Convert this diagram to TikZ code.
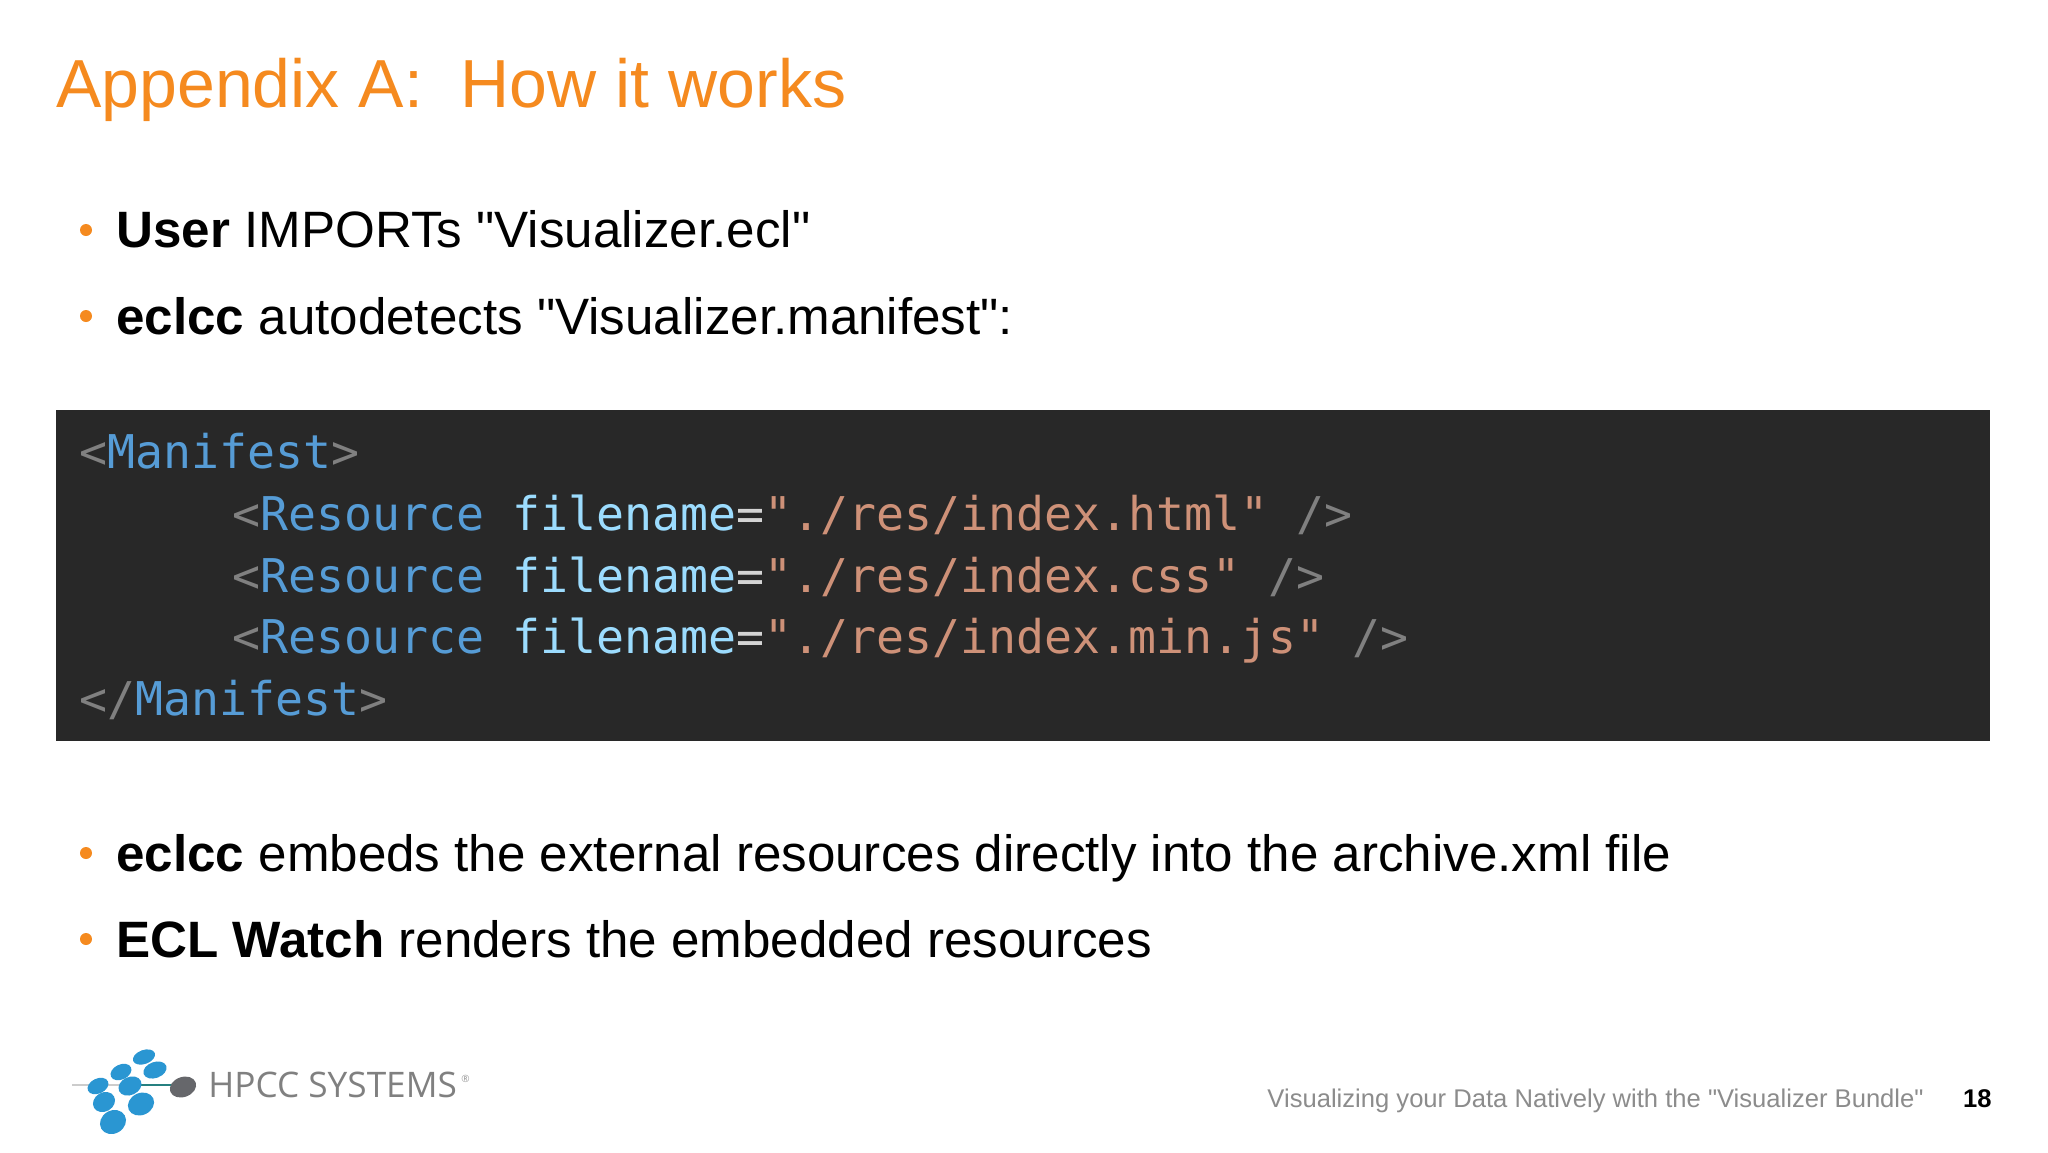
\documentclass[tikz,border=0pt]{standalone}
\usepackage{fontspec}
\setmainfont{Liberation Sans}[Ligatures=TeXOff]
\newfontfamily\codefont{DejaVu Sans Mono}
\newfontfamily\logofont{Open Sans}
\definecolor{titleorange}{HTML}{F58A1F}
\definecolor{codeback}{HTML}{282828}
\definecolor{codemark}{HTML}{808080}
\definecolor{codetag}{HTML}{569CD6}
\definecolor{codeattr}{HTML}{9CDCFE}
\definecolor{codeval}{HTML}{CE9178}
\definecolor{codeeq}{HTML}{D4D4D4}
\definecolor{logoblue}{HTML}{2A96D2}
\definecolor{logogray}{HTML}{66676B}
\newcommand{\mk}[1]{\textcolor{codemark}{#1}}
\newcommand{\tg}[1]{\textcolor{codetag}{#1}}
\newcommand{\resline}[1]{\mk{<}\tg{Resource} \textcolor{codeattr}{filename}\textcolor{codeeq}{=}\textcolor{codeval}{"./res/#1"} \mk{/>}}
\tikzset{
  title/.style={anchor=base west, inner sep=0pt, text=titleorange, font=\fontsize{34}{40}\selectfont},
  bodyline/.style={anchor=base west, inner sep=0pt, font=\fontsize{25.57}{30}\selectfont},
  bulletdot/.style={circle, fill=titleorange, inner sep=0pt, minimum size=6pt},
  codeline/.style={anchor=base west, inner sep=0pt, font=\codefont\fontsize{23.25}{28}\selectfont},
  blob/.style={fill=logoblue},
}
\begin{document}
\begin{tikzpicture}[x=0.5pt, y=-0.5pt]
  \useasboundingbox (0,0) rectangle (2048,1152);
  \fill[white] (0,0) rectangle (2048,1152);

  \node[title] (heading) at (56,107) {Appendix A:\ \ How it works};

  \node[bulletdot] (dota) at (86,230) {};
  \node[bodyline] (linea) at (116,247) {\textbf{User} IMPORTs "Visualizer.ecl"};
  \node[bulletdot] (dotb) at (86,316) {};
  \node[bodyline] (lineb) at (116,334) {\textbf{eclcc} autodetects "Visualizer.manifest":};

  \fill[codeback] (56,410) rectangle (1990,741);
  \node[codeline] (manifestopen) at (79,468) {\mk{<}\tg{Manifest}\mk{>}};
  \node[codeline] (reshtml) at (232,530) {\resline{index.html}};
  \node[codeline] (rescss) at (232,592) {\resline{index.css}};
  \node[codeline] (resjs) at (232,653) {\resline{index.min.js}};
  \node[codeline] (manifestclose) at (79,715) {\mk{</}\tg{Manifest}\mk{>}};

  \node[bulletdot] (dotc) at (86,853) {};
  \node[bodyline] (linec) at (116,871) {\textbf{eclcc} embeds the external resources directly into the archive.xml file};
  \node[bulletdot] (dotd) at (86,939) {};
  \node[bodyline] (lined) at (116,957) {\textbf{ECL Watch} renders the embedded resources};

  % logo
  \draw[black!20, line width=0.6pt] (72,1085) -- (120,1085);
  \draw[teal!70!gray, line width=0.8pt] (120,1085) -- (175,1085);
  \fill[blob] (144,1057) ellipse [x radius=11.5, y radius=7, rotate=20];
  \fill[blob] (121,1072) ellipse [x radius=11, y radius=7.5, rotate=25];
  \fill[blob] (155,1070) ellipse [x radius=12, y radius=8, rotate=20];
  \fill[blob] (98,1086) ellipse [x radius=11, y radius=7.5, rotate=25];
  \fill[blob] (130,1086) ellipse [x radius=12, y radius=9, rotate=25];
  \fill[blob] (104,1102) ellipse [x radius=11.5, y radius=9.5, rotate=30];
  \fill[blob] (141,1104) ellipse [x radius=13.5, y radius=11, rotate=25];
  \fill[blob] (113,1122) ellipse [x radius=13.5, y radius=11.5, rotate=30];
  \fill[logogray] (183,1087) ellipse [x radius=13.5, y radius=10, rotate=20];
  \node[anchor=base west, inner sep=0pt, text=black!50, font=\logofont\fontsize{17.6}{20}\selectfont] (logotext) at (208,1097) {HPCC SYSTEMS};
  \node[anchor=base west, inner sep=0pt, text=black!40, font=\logofont\fontsize{5}{6}\selectfont] (logoreg) at (461,1082) {®};

  % footer
  \node[anchor=base east, inner sep=0pt, text=black!45, font=\fontsize{12.8}{16}\selectfont] (footer) at (1924,1107) {Visualizing your Data Natively with the "Visualizer Bundle"};
  \node[anchor=base east, inner sep=0pt, font=\bfseries\fontsize{12.8}{16}\selectfont] (pagenum) at (1992,1107) {18};
\end{tikzpicture}
\end{document}
